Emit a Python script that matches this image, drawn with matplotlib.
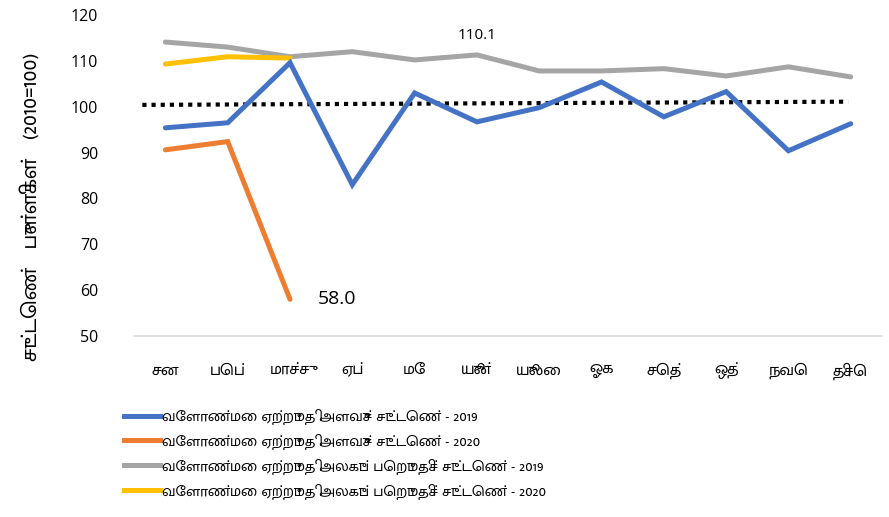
import matplotlib
matplotlib.use("Agg")
import matplotlib.pyplot as plt
from matplotlib import font_manager
from matplotlib.lines import Line2D

# ---- data ----
months = ["சன", "பெப்", "மாச்சு", "ஏப்", "மே", "யூன்", "யூலை", "ஓக", "செத்", "ஒத்", "நவெ", "திசெ"]
vol_2019 = [95.4, 96.5, 109.6, 83.0, 103.0, 96.7, 99.8, 105.4, 97.8, 103.3, 90.4, 96.3]
vol_2020 = [90.6, 92.4, 58.0]
unit_2019 = [114.1, 113.0, 110.9, 112.0, 110.2, 111.3, 107.8, 107.8, 108.3, 106.7, 108.7, 106.5]
unit_2020 = [109.3, 110.9, 110.6]
base_line = [100.4, 101.1]
base_x = [-0.37, 10.96]
labels = [
    "வேளாண்மை ஏற்றுமதி அளவுச் சுட்டெண் - 2019",
    "வேளாண்மை ஏற்றுமதி அளவுச் சுட்டெண் - 2020",
    "வேளாண்மை ஏற்றுமதி அலகுப் பெறுமதிச் சுட்டெண் - 2019",
    "வேளாண்மை ஏற்றுமதி அலகுப் பெறுமதிச் சுட்டெண் - 2020",
]
ylabel = "சுட்டெண்   புள்ளிகள்   (2010=100)"
yticks = [50, 60, 70, 80, 90, 100, 110, 120]

# ---- fonts: pick the installed font that covers all Tamil chars, narrowest ----
needed = set(ord(c) for s in months + labels + [ylabel] for c in s if 0x0B80 <= ord(c) <= 0x0BFF)
tamil_family = None
try:
    from fontTools.ttLib import TTFont
    best = None
    for path in sorted(font_manager.findSystemFonts()):
        try:
            f = TTFont(path, fontNumber=0, lazy=True)
            cmap = f.getBestCmap()
            if not cmap or 0x0B9A not in cmap:
                continue
            cover = sum(1 for c in needed if c in cmap)
            hmtx = f["hmtx"]
            upm = f["head"].unitsPerEm
            w = 0
            for c in labels[2]:
                g = cmap.get(ord(c))
                if g is not None:
                    w += hmtx[g][0] / upm
            key = (-cover, w)
            if best is None or key < best[0]:
                best = (key, path)
        except Exception:
            continue
    if best is not None:
        font_manager.fontManager.addfont(best[1])
        tamil_family = font_manager.FontProperties(fname=best[1]).get_name()
except Exception:
    pass
fam = ([tamil_family] if tamil_family else []) + ["DejaVu Sans"]
num_fam = ["Open Sans", "DejaVu Sans"]

colors = ["#4472C4", "#ED7D31", "#A5A5A5", "#FFC000"]

fig = plt.figure(figsize=(8.89, 5.17), dpi=100)
ax = fig.add_axes([0.151, 0.350, 0.841, 0.621])
renderer = fig.canvas.get_renderer()


def fit_size(texts, target_px, maxsize, minsize=7.5):
    widest = 0
    for s in texts:
        t = fig.text(0, 0, s, family=fam, fontsize=maxsize)
        widest = max(widest, t.get_window_extent(renderer).width)
        t.remove()
    size = maxsize * min(1.0, target_px / max(widest, 1))
    return max(minsize, size)


x = list(range(len(months)))
lw = 3.6
ax.plot(x, unit_2019, color=colors[2], lw=lw, solid_capstyle="round", solid_joinstyle="miter", zorder=3)
ax.plot(x[:len(unit_2020)], unit_2020, color=colors[3], lw=lw, solid_capstyle="round", solid_joinstyle="miter", zorder=4)
ax.plot(x, vol_2019, color=colors[0], lw=lw, solid_capstyle="round", solid_joinstyle="miter", zorder=5)
ax.plot(x[:len(vol_2020)], vol_2020, color=colors[1], lw=lw, solid_capstyle="round", solid_joinstyle="miter", zorder=4)
ax.plot(base_x, base_line, color="black", lw=3, linestyle=(0, (1, 1.2)), zorder=2)

ax.text(2.45, 58.0, "58.0", fontsize=14, family=num_fam, va="center", ha="left")
ax.text(5, 111.3 + 2.6, "110.1", fontsize=11, family=num_fam, va="bottom", ha="center")

ax.set_xlim(-0.5, 11.5)
ax.set_ylim(50, 120)
ax.set_yticks(yticks)
ax.set_yticklabels([str(v) for v in yticks], family=num_fam, fontsize=11.5)
ax.set_xticks(x)
xt_size = fit_size(months, 56, 12)
ax.set_xticklabels(months, family=fam, fontsize=xt_size)
ax.tick_params(axis="both", length=0)
ax.tick_params(axis="y", pad=26)
ax.tick_params(axis="x", pad=19)
for s in ["top", "right", "left"]:
    ax.spines[s].set_visible(False)
ax.spines["bottom"].set_color("#D9D9D9")
ax.spines["bottom"].set_linewidth(1.2)

yl_size = fit_size([ylabel], 320, 16)
fig.text(0.036, 0.60, ylabel, rotation=90, family=fam, fontsize=yl_size, ha="center", va="center")

leg_size = fit_size(labels, 385, 16)
px_per_pt = 100 / 72.0
row_px = 28.0
spacing = max(0.2, (row_px - leg_size * px_per_pt * 1.25) / (leg_size * px_per_pt))
handles = [Line2D([0], [0], color=c, lw=3.6) for c in colors]
leg = fig.legend(handles, labels, loc="center left", bbox_to_anchor=(0.139, 0.121),
                 frameon=False, prop={"family": fam, "size": leg_size}, handlelength=36 / (leg_size * px_per_pt),
                 handletextpad=0.15, labelspacing=spacing, borderaxespad=0, borderpad=0)

fig.savefig("out.png", dpi=100)
